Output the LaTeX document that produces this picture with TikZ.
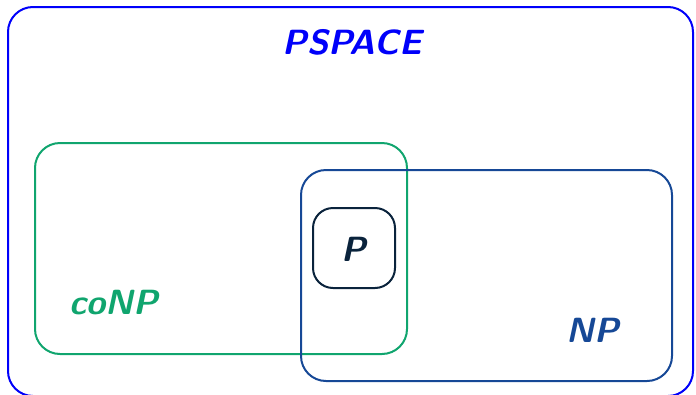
\documentclass[tikz,border=0pt]{standalone}
\usepackage{fontspec}
\setsansfont{Latin Modern Sans}
\definecolor{outerblue}{RGB}{0,0,250}
\definecolor{conpgreen}{RGB}{16,165,110}
\definecolor{npblue}{RGB}{22,72,150}
\definecolor{pnavy}{RGB}{10,35,60}
\tikzset{
  setbox/.style={draw, line width=2pt, rounded corners=25pt},
  setlabel/.style={font=\fontsize{35}{40}\selectfont\sffamily\bfseries\itshape, inner sep=0pt}
}
\begin{document}
\begin{tikzpicture}[x=1pt,y=-1pt]
\useasboundingbox (0,0) rectangle (696,394);
\draw[setbox, outerblue] (8,7) rectangle (693,396);
\draw[setbox, conpgreen] (35,143) rectangle (407,354);
\draw[setbox, npblue] (301,170) rectangle (672,381);
\draw[setbox, pnavy, rounded corners=20pt] (313,208) rectangle (395,288);
\node[setlabel, text=outerblue] (pspace) at (352,42) {PSPACE};
\node[setlabel, text=conpgreen] (conp) at (114,303) {coNP};
\node[setlabel, text=npblue] (np) at (593,330) {NP};
\node[setlabel, text=pnavy] (p) at (354,249) {P};
\end{tikzpicture}
\end{document}
